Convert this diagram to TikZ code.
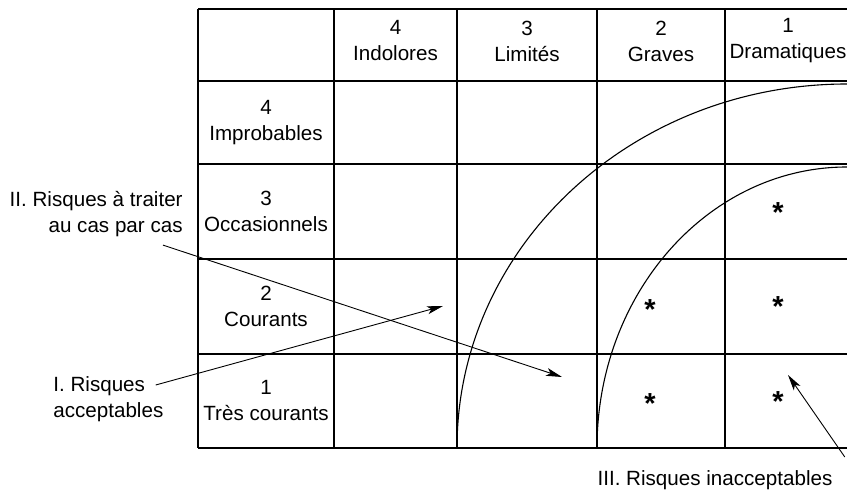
\documentclass[tikz,border=0pt]{standalone}
\usepackage{fontspec}
\setmainfont{Liberation Sans}
\usetikzlibrary{arrows.meta, calc}

\begin{document}
\begin{tikzpicture}[
    x=0.5pt, y=-0.5pt,
    grid/.style={line width=0.65pt, draw=black},
    zone/.style={line width=0.55pt, draw=black},
    pointer/.style={-{Stealth[length=8pt, width=4pt, inset=2pt]}, line width=0.45pt},
    cell/.style={font=\fontsize{10.3}{13}\selectfont, align=center, inner sep=0pt},
    mark star/.style={font=\fontsize{14.5}{15}\selectfont\bfseries, inner sep=0pt, anchor=base},
    note/.style={font=\fontsize{10.3}{13}\selectfont, inner sep=0pt}
]
    \useasboundingbox (0,0) rectangle (847,490);

    % Table grid
    \foreach \y in {9,81,164,259,354,448}
        \draw[grid] (198,\y) -- (851,\y);
    \foreach \x in {198,334,457,597,725}
        \draw[grid] (\x,9) -- (\x,448);

    % Gravity headers
    \foreach \xc/\num/\name in {395.5/4/Indolores, 527/3/Limités, 661/2/Graves, 788/1/Dramatiques}
        \node[cell] (grav\num) at (\xc,41) {\num\\\name};

    % Frequency headers
    \foreach \yc/\num/\name in {122.5/4/Improbables, 211.5/3/Occasionnels, 306.5/2/Courants, 401/1/Très courants}
        \node[cell] (freq\num) at (266,\yc) {\num\\\name};

    % Zone boundaries
    \draw[zone] (457,448) arc[start angle=180, end angle=270, x radius=390, y radius=364];
    \draw[zone] (597,448) arc[start angle=180, end angle=270, x radius=250, y radius=281];

    % Unacceptable cells
    \node[mark star] (star32) at (650,320) {*};
    \node[mark star] (star31) at (650,414) {*};
    \node[mark star] (star43) at (778,223) {*};
    \node[mark star] (star42) at (778,317) {*};
    \node[mark star] (star41) at (778,412) {*};

    % Zone labels
    \node[note, align=right, anchor=east] (risk2) at (183,214) {II. Risques à traiter\\au cas par cas};
    \node[note, align=left, anchor=west] (risk1) at (53,399) {I. Risques\\acceptables};
    \node[note] (risk3) at (715,480) {III. Risques inacceptables};

    \coordinate (tip1) at (443,306);
    \coordinate (tip2) at (562,377);
    \coordinate (tip3) at (788,375);

    \draw[pointer] ($(risk1.north east)+(-8,9)$) -- (tip1);
    \draw[pointer] ($(risk2.south east)+(-20,8)$) -- (tip2);
    \draw[pointer] ($(risk3.north east)+(12,-13)$) -- (tip3);
\end{tikzpicture}
\end{document}
